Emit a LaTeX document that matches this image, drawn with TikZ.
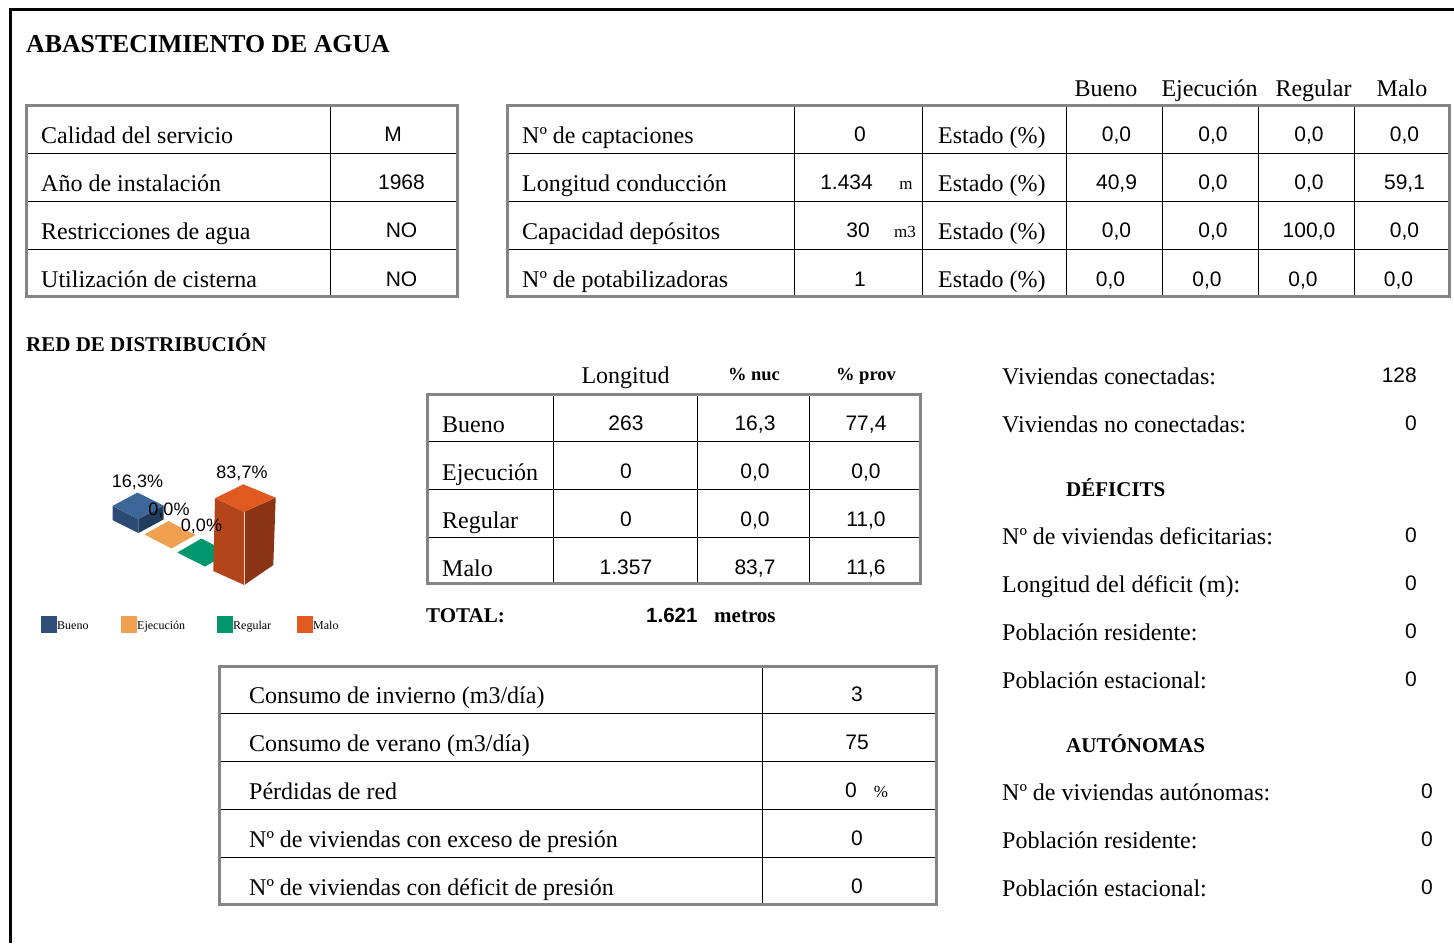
\documentclass[tikz,border=0pt]{standalone}
\usepackage{fontspec}
\setmainfont{Liberation Serif}
\newfontfamily\arial{Liberation Sans}
\definecolor{bluetop}{HTML}{3D6699}
\definecolor{bluefront}{HTML}{2B4B75}
\definecolor{blueside}{HTML}{223C5E}
\definecolor{bluekey}{HTML}{2E5078}
\definecolor{orangebar}{HTML}{F0A150}
\definecolor{greenbar}{HTML}{00966E}
\definecolor{redtop}{HTML}{E05A20}
\definecolor{redfront}{HTML}{B4441A}
\definecolor{redside}{HTML}{8A3414}
\definecolor{tabgray}{HTML}{858585}

\begin{document}
\begin{tikzpicture}[x=1pt,y=-1pt,
  lbl/.style={anchor=base west,inner sep=0pt,font=\fontsize{24}{28}\selectfont},
  lblc/.style={anchor=base,inner sep=0pt,font=\fontsize{24}{28}\selectfont},
  num/.style={anchor=base,inner sep=0pt,font=\arial\fontsize{21}{24}\selectfont},
  unit/.style={anchor=base,inner sep=0pt,font=\fontsize{17}{20}\selectfont},
  head/.style={anchor=base west,inner sep=0pt,font=\bfseries\fontsize{21}{25}\selectfont},
  pct/.style={anchor=base,inner sep=0pt,font=\arial\fontsize{18}{21}\selectfont},
  key/.style={anchor=base west,inner sep=0pt,font=\fontsize{12}{14}\selectfont},
  outer/.style={draw=tabgray,line width=3pt},
  grid/.style={draw=black,line width=1pt}]

\useasboundingbox (0,0) rectangle (1454,943);

% frame
\draw [line width=3pt] (10,943) -- (10,9) -- (1454,9);

\node [anchor=base west,inner sep=0pt,font=\bfseries\fontsize{25.8}{30}\selectfont] (title) at (26,52) {ABASTECIMIENTO DE AGUA};

% general table
\foreach \y in {153,201,249} \draw [grid] (26,\y) -- (457,\y);
\draw [grid] (330,105) -- (330,296);
\draw [outer] (26,105) rectangle (457,296);

\node [lbl] (cal) at (41,143) {Calidad del servicio};
\node [num] (calv) at (393,141.5) {M};
\node [lbl] (ano) at (41,191) {Año de instalación};
\node [num] (anov) at (401.5,189.5) {1968};
\node [lbl] (res) at (41,239) {Restricciones de agua};
\node [num] (resv) at (401.5,237.5) {NO};
\node [lbl] (cis) at (41,287) {Utilización de cisterna};
\node [num] (cisv) at (401.5,286) {NO};

% captaciones table
\foreach \y in {153,201,249} \draw [grid] (507,\y) -- (1449,\y);
\foreach \x in {794,922,1066,1162,1258,1354} \draw [grid] (\x,105) -- (\x,296);
\draw [outer] (507,105) rectangle (1449,296);

\node [lblc] (hbueno) at (1106,96) {Bueno};
\node [lblc] (hejec) at (1209.5,96) {Ejecución};
\node [lblc] (hreg) at (1313.5,96) {Regular};
\node [lblc] (hmalo) at (1402,96) {Malo};

\node [lbl] (capt) at (522,143) {Nº de captaciones};
\node [num] (captv) at (860,141.5) {0};
\node [lbl] (cond) at (522,191) {Longitud conducción};
\node [num,anchor=base east] (condv) at (873,189.5) {1.434};
\node [unit] (condu) at (906,189) {m};
\node [lbl] (dep) at (522,239) {Capacidad depósitos};
\node [num,anchor=base east] (depv) at (870,237.5) {30};
\node [unit] (depu) at (905,237) {m3};
\node [lbl] (pot) at (522,287) {Nº de potabilizadoras};
\node [num] (potv) at (860,286) {1};

\foreach \y/\s/\a/\b/\c/\d [count=\r] in {141.5/0/{0,0}/{0,0}/{0,0}/{0,0},
    189.5/0/{40,9}/{0,0}/{0,0}/{59,1}, 237.5/0/{0,0}/{0,0}/{100,0}/{0,0},
    286/-6/{0,0}/{0,0}/{0,0}/{0,0}}{
  \node [lbl] (est\r) at (938,\y+1.5) {Estado (\%)};
  \node [num] (est\r-b) at (1116.5+\s,\y) {\a};
  \node [num] (est\r-e) at (1213+\s,\y) {\b};
  \node [num] (est\r-r) at (1309+\s,\y) {\c};
  \node [num] (est\r-m) at (1404.5+\s,\y) {\d};
}

% red de distribucion
\node [head] (red) at (26,351) {RED DE DISTRIBUCIÓN};

\foreach \y in {441,489,537} \draw [grid] (427,\y) -- (920,\y);
\foreach \x in {553,697,809} \draw [grid] (\x,394) -- (\x,583);
\draw [outer] (427,394) rectangle (920,583);

\node [lblc] (hlong) at (625.5,383) {Longitud};
\node [anchor=base,inner sep=0pt,font=\bfseries\fontsize{18.5}{22}\selectfont] (hnuc) at (754,380.5) {\% nuc};
\node [anchor=base,inner sep=0pt,font=\bfseries\fontsize{18.5}{22}\selectfont] (hprov) at (866,380.5) {\% prov};

\foreach \y/\t/\l/\n/\p [count=\r] in {432/Bueno/263/{16,3}/{77,4}, 480/Ejecución/0/{0,0}/{0,0},
    528/Regular/0/{0,0}/{11,0}, 576/Malo/1.357/{83,7}/{11,6}}{
  \node [lbl] (est\r) at (442,\y) {\t};
  \node [num] (long\r) at (626,\y-2) {\l};
  \node [num] (nuc\r) at (755,\y-2) {\n};
  \node [num] (prov\r) at (866,\y-2) {\p};
}

\node [head] (total) at (426,622) {TOTAL:};
\node [anchor=base west,inner sep=0pt,font=\arial\bfseries\fontsize{20.5}{24}\selectfont] (totalv) at (646,622) {1.621};
\node [head] (totalu) at (714,622) {metros};

% chart
\fill [bluefront] (112.5,520) -- (138.5,533) -- (138.5,519) -- (112.5,506) -- cycle;
\fill [blueside] (138.5,533) -- (163.5,519.5) -- (163.5,505.5) -- (138.5,519) -- cycle;
\fill [bluetop] (112.5,506) -- (138.5,519) -- (163.5,505.5) -- (137.5,492.5) -- cycle;
\fill [orangebar] (144.5,534.5) -- (171.5,548.5) -- (195.5,535) -- (168.5,521) -- cycle;
\fill [greenbar] (177.3,552.5) -- (205,566.5) -- (229,553) -- (201.5,538.5) -- cycle;
\fill [redfront] (215,498.3) -- (244.3,511.7) -- (244.3,585) -- (213.3,571) -- cycle;
\fill [redside] (244.3,511.7) -- (275.7,497.7) -- (273.3,565) -- (244.3,585) -- cycle;
\fill [redtop] (215,498.3) -- (244.3,511.7) -- (275.7,497.7) -- (243.3,484.3) -- cycle;
\draw [white!75!redfront,line width=0.6pt] (244.3,511.7) -- (244.3,585);

\node [pct] (pbueno) at (137.5,487.5) {16,3\%};
\node [pct] (pejec) at (169,515) {0,0\%};
\node [pct] (preg) at (201.5,531.5) {0,0\%};
\node [pct] (pmalo) at (242,478.5) {83,7\%};

\fill [bluekey] (41,616) rectangle (57,633);
\node [key] (kbueno) at (57,629) {Bueno};
\fill [orangebar] (121,616) rectangle (137,633);
\node [key] (kejec) at (137,629) {Ejecución};
\fill [greenbar] (217,616) rectangle (233,633);
\node [key] (kreg) at (233,629) {Regular};
\fill [redtop] (297,616) rectangle (313,633);
\node [key] (kmalo) at (313,629) {Malo};

% consumo table
\foreach \y in {713,761,809,857} \draw [grid] (219,\y) -- (936,\y);
\draw [grid] (762,666) -- (762,904);
\draw [outer] (219,666) rectangle (936,904);

\node [lbl] (inv) at (249,703) {Consumo de invierno (m3/día)};
\node [num] (invv) at (857,701.5) {3};
\node [lbl] (ver) at (249,751) {Consumo de verano (m3/día)};
\node [num] (verv) at (857,749.5) {75};
\node [lbl] (perd) at (249,799) {Pérdidas de red};
\node [num] (perdv) at (851,797.5) {0};
\node [unit] (perdu) at (881,797) {\%};
\node [lbl] (exc) at (249,847) {Nº de viviendas con exceso de presión};
\node [num] (excv) at (857,845.5) {0};
\node [lbl] (defp) at (249,895) {Nº de viviendas con déficit de presión};
\node [num] (defpv) at (857,893.5) {0};

% viviendas
\node [lbl] (con) at (1002,384) {Viviendas conectadas:};
\node [num,anchor=base east] (conv) at (1417,382) {128};
\node [lbl] (nocon) at (1002,432) {Viviendas no conectadas:};
\node [num] (noconv) at (1411,430) {0};

\node [head] (def) at (1066,496) {DÉFICITS};
\foreach \y/\t [count=\r] in {544/Nº de viviendas deficitarias:, 592/Longitud del déficit (m):,
    640/Población residente:, 688/Población estacional:}{
  \node [lbl] (def\r) at (1002,\y) {\t};
  \node [num] (def\r v) at (1411,\y-2) {0};
}

\node [head] (aut) at (1066,752) {AUTÓNOMAS};
\foreach \y/\t [count=\r] in {800/Nº de viviendas autónomas:, 848/Población residente:,
    896/Población estacional:}{
  \node [lbl] (aut\r) at (1002,\y) {\t};
  \node [num] (aut\r v) at (1427,\y-2) {0};
}

\end{tikzpicture}
\end{document}
